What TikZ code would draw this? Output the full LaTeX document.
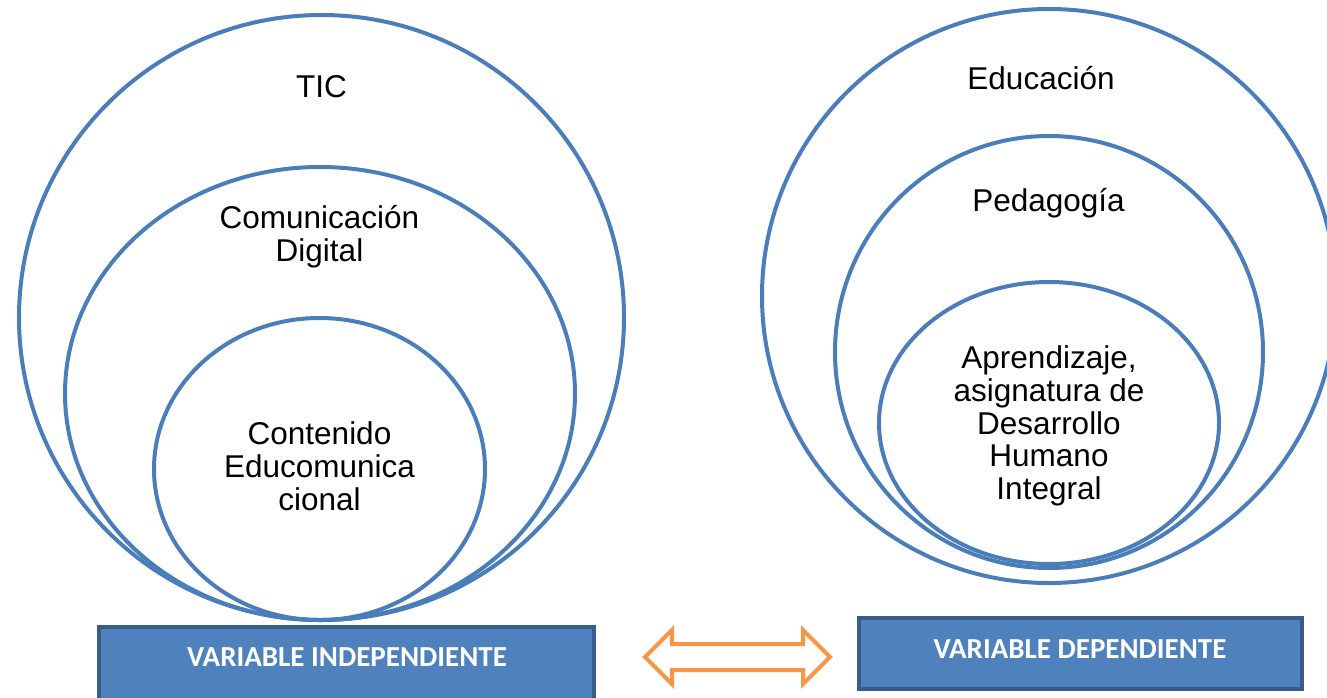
\documentclass[tikz,border=0pt]{standalone}
\usepackage{fontspec}
\setmainfont{Liberation Sans}
\newfontfamily\boxfont{Carlito}
\usetikzlibrary{shapes.geometric,shapes.arrows}
\definecolor{ringblue}{RGB}{74,126,187}
\definecolor{boxfill}{RGB}{79,129,189}
\definecolor{boxline}{RGB}{56,93,138}
\definecolor{arroworange}{RGB}{247,150,70}
\tikzset{
  ringshape/.style={ellipse, draw=ringblue, line width=4pt, inner sep=0pt},
  lbl/.style={align=center, inner sep=0pt, font=\fontsize{31.5}{32.8}\selectfont},
  varbox/.style={rectangle, draw=boxline, fill=boxfill, line width=4pt, inner sep=0pt},
  vartext/.style={inner sep=0pt, text=white, font=\boxfont\bfseries\fontsize{29}{32}\selectfont},
  darrow/.style={double arrow, draw=arroworange, line width=4pt, fill=white,
    inner xsep=0pt, inner ysep=11pt, minimum height=185pt, minimum width=0pt,
    double arrow head extend=14pt, double arrow head indent=0pt}
}
\begin{document}
\begin{tikzpicture}[x=1pt,y=-1pt]
\useasboundingbox (0,0) rectangle (1327,697);
% left group
\node[ringshape, minimum width=605pt, minimum height=605pt] (tic) at (321.5,317.5) {};
\node[ringshape, minimum width=510pt, minimum height=453pt] (comd) at (320,393.5) {};
\node[ringshape, minimum width=331pt, minimum height=302pt] (cont) at (319.5,469) {};
% right group
\node[ringshape, minimum width=574pt, minimum height=574pt] (edu) at (1049,296) {};
\node[ringshape, minimum width=428pt, minimum height=432pt] (ped) at (1049,352) {};
\node[ringshape, minimum width=340pt, minimum height=282pt] (apr) at (1049,423) {};
% labels
\node[lbl] (tict) at (321.5,91.1) {\strut TIC};
\node[lbl] (comdt) at (319.5,238) {\strut Comunicación\\Digital\strut};
\node[lbl] (contt) at (319.5,470.9) {\strut Contenido\\Educomunica\\cional\strut};
\node[lbl] (edut) at (1041,82.4) {\strut Educación};
\node[lbl] (pedt) at (1048.5,204.7) {\strut Pedagogía};
\node[lbl] (aprt) at (1049,427.6) {\strut Aprendizaje,\\asignatura de\\Desarrollo\\Humano\\Integral\strut};
% boxes
\node[varbox, minimum width=495pt, minimum height=80pt] (vi) at (346.5,667) {};
\node[vartext] (vit) at (347,657.5) {VARIABLE INDEPENDIENTE};
\node[varbox, minimum width=443pt, minimum height=71pt] (vd) at (1080.5,653.5) {};
\node[vartext] (vdt) at (1080,649) {VARIABLE DEPENDIENTE};
% double arrow
\node[darrow] (arr) at (737.5,657) {};
\end{tikzpicture}
\end{document}
